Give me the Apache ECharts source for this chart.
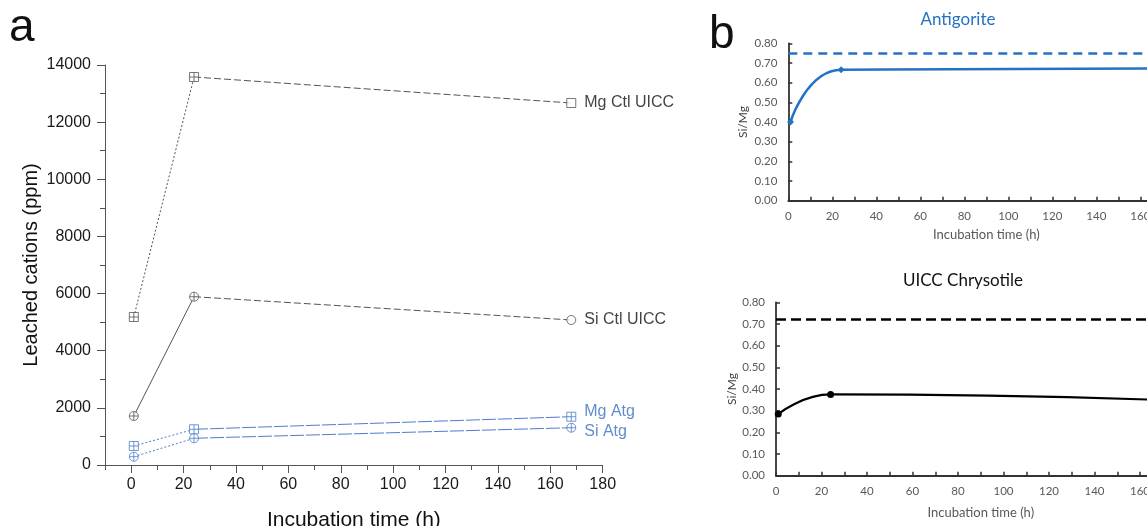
<!DOCTYPE html>
<html><head><meta charset="utf-8">
<script src="https://cdn.jsdelivr.net/npm/echarts@6/dist/echarts.min.js"></script>
<style>html,body{margin:0;padding:0;background:#fff}#c{width:1147px;height:526px}</style>
</head><body><div id="c"></div>
<script>
// ---------- data: panel a ----------
const timeA = [1, 24, 168];
const mgCtlUICC = [5180, 13580, 12670];
const siCtlUICC = [1715, 5890, 5075];
const mgAtg = [665, 1250, 1690];
const siAtg = [290, 935, 1305];
const namesA = ['Mg Ctl UICC', 'Si Ctl UICC', 'Mg Atg', 'Si Atg'];
const xMajorTicksA = [0, 20, 40, 60, 80, 100, 120, 140, 160, 180];
const xMinorTicksA = [-10, 10, 30, 50, 70, 90, 110, 130, 150, 170];

// ---------- data: panel b ----------
const timeB = [1, 24, 168];
const antigoriteSiMg = [0.40, 0.665, 0.672];
const chrysotileSiMg = [0.285, 0.375, 0.35];
const antigoriteRef = 0.75;
const chrysotileRef = 0.72;
const titlesB = ['Antigorite', 'UICC Chrysotile'];

// ---------- styling ----------
const FA = 'Liberation Sans, Arial, sans-serif';
const FB = 'Lato, Open Sans, sans-serif';
const GRAY = '#555';
const BLUE_A = '#4d7ecb';
const BLUE_B = '#2473c2';
const SQ_PLUS = 'path://M0,0L10,0L10,10L0,10Z M5,0L5,10 M0,5L10,5';
const CI_PLUS = 'path://M10,5A5,5,0,1,1,0,5A5,5,0,1,1,10,5Z M5,0L5,10 M0,5L10,5';
const SQ = 'path://M0,0L10,0L10,10L0,10Z';
const CI = 'path://M10,5A5,5,0,1,1,0,5A5,5,0,1,1,10,5Z';

function segments(ys, color, dash1, dash2) {
  return [
    {type: 'line', xAxisIndex: 0, yAxisIndex: 0, symbol: 'none', silent: true, z: 2,
     data: [[timeA[0], ys[0]], [timeA[1], ys[1]]], lineStyle: {color, width: 1, type: dash1}},
    {type: 'line', xAxisIndex: 0, yAxisIndex: 0, symbol: 'none', silent: true, z: 2,
     data: [[timeA[1], ys[1]], [timeA[2], ys[2]]], lineStyle: {color, width: 1, type: dash2}}
  ];
}
function markers(name, ys, syms, color, labelColor, dy) {
  return {
    type: 'scatter', name, xAxisIndex: 0, yAxisIndex: 0, z: 5, symbolSize: 9,
    itemStyle: {color: '#fff', borderColor: color, borderWidth: 1},
    data: ys.map((y, i) => ({
      value: [timeA[i], y], symbol: syms[i],
      label: i === ys.length - 1
        ? {show: true, position: 'right', distance: 8, formatter: name, fontSize: 16,
           fontFamily: FA, color: labelColor, offset: [0, dy]}
        : {show: false}
    }))
  };
}

const axisB = (grid, nameGap) => ({
  type: 'value', gridIndex: grid, min: 0, max: 180, interval: 10,
  name: 'Incubation time (h)', nameLocation: 'middle', nameGap,
  nameTextStyle: {fontFamily: FB, fontSize: 13, color: '#595959'},
  axisLine: {show: true, onZero: false, lineStyle: {color: '#333', width: 1.8}},
  axisTick: {show: true, inside: true, length: 4, lineStyle: {color: '#333', width: 1.5}},
  axisLabel: {fontFamily: FB, fontSize: 11.5, color: '#595959', margin: 10,
              formatter: v => (v % 20 === 0 ? String(v) : '')},
  splitLine: {show: false}
});
const yAxisB = (grid, nameGap) => ({
  type: 'value', gridIndex: grid, min: 0, max: 0.8, interval: 0.1,
  name: 'Si/Mg', nameLocation: 'middle', nameGap,
  nameTextStyle: {fontFamily: FB, fontSize: 12, color: '#404040'},
  axisLine: {show: true, onZero: false, lineStyle: {color: '#333', width: 1.8}},
  axisTick: {show: true, inside: true, length: 4, lineStyle: {color: '#333', width: 1.5}},
  axisLabel: {fontFamily: FB, fontSize: 11.5, color: '#595959', margin: 11,
              formatter: v => v.toFixed(2)},
  splitLine: {show: false}
});

const option = {
  animation: false,
  backgroundColor: '#fff',
  grid: [
    {left: 105, top: 65, width: 497.7, height: 400, outerBoundsMode: 'none', containLabel: false},
    {left: 788.3, top: 43.3, width: 396, height: 157.4, outerBoundsMode: 'none', containLabel: false},
    {left: 776, top: 302.3, width: 409.5, height: 173.4, outerBoundsMode: 'none', containLabel: false}
  ],
  xAxis: [
    {type: 'value', gridIndex: 0, min: -10, max: 180, position: 'bottom',
     name: 'Incubation time (h)', nameLocation: 'middle', nameGap: 45,
     nameTextStyle: {fontFamily: FA, fontSize: 21, color: '#111'},
     axisLine: {show: true, onZero: false, lineStyle: {color: GRAY, width: 1}},
     axisTick: {show: true, customValues: xMajorTicksA, length: 8, lineStyle: {color: GRAY}},
     axisLabel: {customValues: xMajorTicksA, fontFamily: FA, fontSize: 16, color: '#1a1a1a', margin: 12},
     splitLine: {show: false}},
    {type: 'value', gridIndex: 0, min: -10, max: 180, position: 'bottom', offset: 0,
     axisLine: {show: false, onZero: false},
     axisTick: {show: true, customValues: xMinorTicksA, length: 5, lineStyle: {color: GRAY}},
     axisLabel: {show: false}, splitLine: {show: false}},
    axisB(1, 28),
    axisB(2, 31)
  ],
  yAxis: [
    {type: 'value', gridIndex: 0, min: 0, max: 14000, interval: 2000,
     name: 'Leached cations (ppm)', nameLocation: 'middle', nameGap: 64,
     nameTextStyle: {fontFamily: FA, fontSize: 20, color: '#111'},
     axisLine: {show: true, onZero: false, lineStyle: {color: GRAY, width: 1}},
     axisTick: {show: true, length: 8, lineStyle: {color: GRAY}},
     minorTick: {show: true, splitNumber: 2, length: 5, lineStyle: {color: GRAY}},
     axisLabel: {fontFamily: FA, fontSize: 16, color: '#1a1a1a', margin: 14,
                 formatter: v => String(v)},
     splitLine: {show: false}, minorSplitLine: {show: false}},
    yAxisB(1, 39),
    yAxisB(2, 38)
  ],
  graphic: [
    {type: 'text', left: 9, top: 5, style: {text: 'a', font: '46px ' + FA, fill: '#111'}},
    {type: 'text', left: 709, top: 12, style: {text: 'b', font: '46px ' + FA, fill: '#111'}},
    {type: 'text', x: 958, y: 20, style: {text: titlesB[0], font: '17px ' + FB, fill: BLUE_B,
      align: 'center', verticalAlign: 'middle'}},
    {type: 'text', x: 963, y: 281, style: {text: titlesB[1], font: '17px ' + FB, fill: '#111',
      align: 'center', verticalAlign: 'middle'}}
  ],
  series: [
    ...segments(mgCtlUICC, GRAY, [2, 2], [7, 3]),
    ...segments(siCtlUICC, GRAY, 'solid', [7, 3]),
    ...segments(mgAtg, BLUE_A, [2, 2], [14, 2]),
    ...segments(siAtg, BLUE_A, [2, 2], [14, 2]),
    markers(namesA[0], mgCtlUICC, [SQ_PLUS, SQ_PLUS, SQ], GRAY, '#111', 0),
    markers(namesA[1], siCtlUICC, [CI_PLUS, CI_PLUS, CI], GRAY, '#111', 0),
    markers(namesA[2], mgAtg, [SQ_PLUS, SQ_PLUS, SQ_PLUS], BLUE_A, '#3a6fc0', -5),
    markers(namesA[3], siAtg, [CI_PLUS, CI_PLUS, CI_PLUS], BLUE_A, '#3a6fc0', 4),
    {type: 'line', name: titlesB[0], xAxisIndex: 2, yAxisIndex: 1, smooth: 0.5,
     data: timeB.map((t, i) => [t, antigoriteSiMg[i]]),
     symbol: 'diamond', symbolSize: 7, itemStyle: {color: BLUE_B},
     lineStyle: {color: BLUE_B, width: 2.5},
     markLine: {silent: true, symbol: 'none', label: {show: false},
       lineStyle: {color: BLUE_B, width: 2.5, type: [9, 6]}, data: [{yAxis: antigoriteRef}]}},
    {type: 'line', name: titlesB[1], xAxisIndex: 3, yAxisIndex: 2, smooth: 0.5,
     data: timeB.map((t, i) => [t, chrysotileSiMg[i]]),
     symbol: 'circle', symbolSize: 7, itemStyle: {color: '#000'},
     lineStyle: {color: '#000', width: 2.2},
     markLine: {silent: true, symbol: 'none', label: {show: false},
       lineStyle: {color: '#000', width: 2.5, type: [10, 5]}, data: [{yAxis: chrysotileRef}]}}
  ]
};
const chart = echarts.init(document.getElementById('c'));
chart.setOption(option);
</script></body></html>
